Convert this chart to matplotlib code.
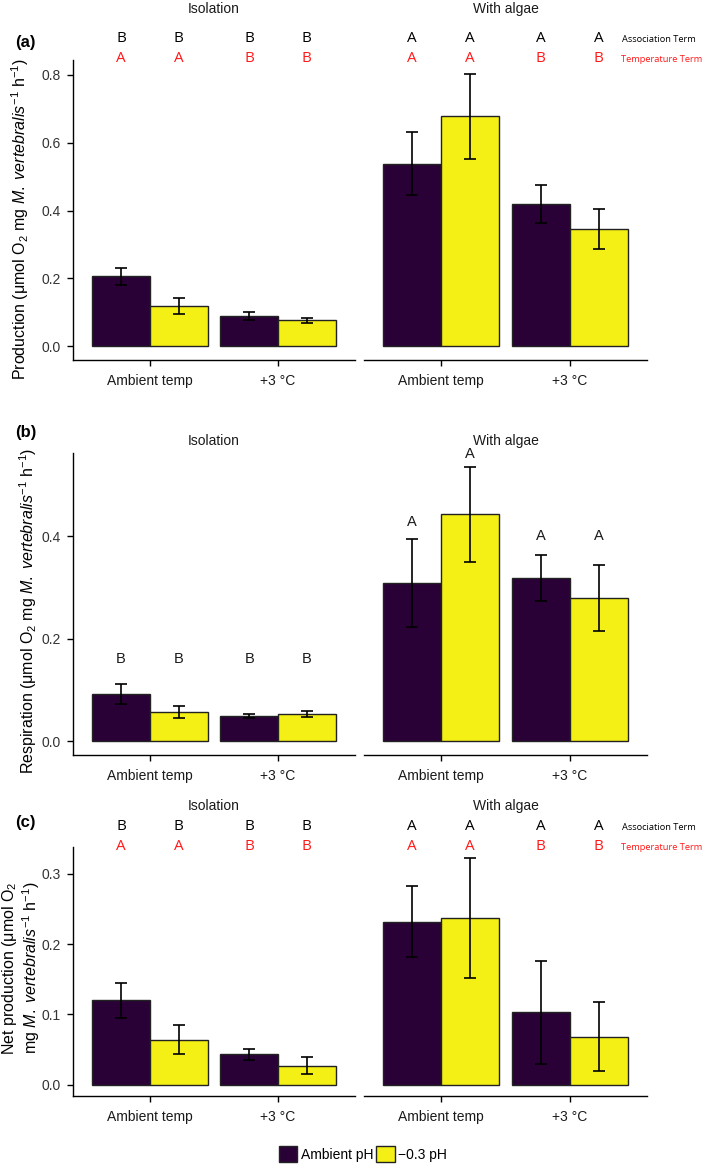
import matplotlib
matplotlib.use('Agg')
import matplotlib.pyplot as plt
import matplotlib.transforms as mtransforms
from matplotlib.patches import Patch
import numpy as np

plt.rcParams['font.family'] = ['Liberation Sans', 'DejaVu Sans']
plt.rcParams['mathtext.fontset'] = 'custom'
plt.rcParams['mathtext.rm'] = 'Liberation Sans'
plt.rcParams['mathtext.it'] = 'Liberation Sans:italic'
plt.rcParams['mathtext.bf'] = 'Liberation Sans:bold'

# data: order = [ambient temp/ambient pH, ambient temp/-0.3 pH, +3/ambient pH, +3/-0.3 pH]
temps = ['Ambient temp', '+3 °C']
ph_levels = ['Ambient pH', '\u22120.3 pH']
facets = ['Isolation', 'With algae']

prod_iso_mean = [0.206, 0.118, 0.089, 0.077]
prod_iso_se = [0.026, 0.023, 0.011, 0.007]
prod_alg_mean = [0.538, 0.677, 0.420, 0.345]
prod_alg_se = [0.092, 0.126, 0.056, 0.059]

resp_iso_mean = [0.092, 0.057, 0.050, 0.054]
resp_iso_se = [0.019, 0.011, 0.004, 0.006]
resp_alg_mean = [0.309, 0.443, 0.319, 0.280]
resp_alg_se = [0.085, 0.093, 0.045, 0.064]

net_iso_mean = [0.120, 0.064, 0.043, 0.027]
net_iso_se = [0.025, 0.021, 0.008, 0.012]
net_alg_mean = [0.232, 0.237, 0.103, 0.068]
net_alg_se = [0.051, 0.085, 0.073, 0.049]

assoc_iso = ['B', 'B', 'B', 'B']
assoc_alg = ['A', 'A', 'A', 'A']
temp_letters = ['A', 'A', 'B', 'B']
resp_iso_letters = ['B', 'B', 'B', 'B']
resp_alg_letters = ['A', 'A', 'A', 'A']
resp_iso_letter_y = [0.16, 0.16, 0.16, 0.16]
resp_alg_letter_y = [0.428, 0.561, 0.401, 0.401]

colors = ['#2a0136', '#f4ef14']

W, H = 709, 1164
fig = plt.figure(figsize=(W / 100, H / 100), dpi=100)


def rect(l, t, r, b):
    return [l / W, 1 - b / H, (r - l) / W, (b - t) / H]


def draw_facet(ax, means, ses, ymax, yticks, show_y):
    xs = np.array([1 - 0.225, 1 + 0.225, 2 - 0.225, 2 + 0.225])
    for i in range(4):
        ax.bar(xs[i], means[i], width=0.45, color=colors[i % 2],
               edgecolor='#222222', linewidth=1.0, zorder=2)
    ax.errorbar(xs, means, yerr=ses, fmt='none', ecolor='black',
                elinewidth=1.2, capsize=4.5, capthick=1.2, zorder=3)
    ax.set_xlim(0.4, 2.6)
    ax.set_ylim(-0.05 * ymax, 1.05 * ymax)
    ax.set_xticks([1, 2])
    ax.set_xticklabels(temps, fontsize=10, color='#1a1a1a')
    for s in ['top', 'right']:
        ax.spines[s].set_visible(False)
    ax.spines['bottom'].set_linewidth(1.0)
    ax.tick_params(axis='x', length=4, width=1.0, pad=6)
    if show_y:
        ax.set_yticks(yticks)
        ax.set_yticklabels(['%.1f' % v for v in yticks], fontsize=10, color='#333333')
        ax.tick_params(axis='y', length=4, width=1.0, pad=5)
        ax.spines['left'].set_linewidth(1.0)
    else:
        ax.spines['left'].set_visible(False)
        ax.set_yticks([])
    ax.set_facecolor('none')
    return xs


panels = [
    dict(top=60, bottom=360, iso=(prod_iso_mean, prod_iso_se), alg=(prod_alg_mean, prod_alg_se),
         yticks=[0, 0.2, 0.4, 0.6, 0.8], strip=9, tag='(a)', tag_y=43,
         letters=(39, 58), ylabel_x=20, ylabel_y=219,
         ylabel='Production (μmol O$_2$ mg $\\mathit{M.\\ vertebralis}^{-1}$ h$^{-1}$)'),
    dict(top=453, bottom=755, iso=(resp_iso_mean, resp_iso_se), alg=(resp_alg_mean, resp_alg_se),
         yticks=[0, 0.2, 0.4], strip=441, tag='(b)', tag_y=433,
         letters=None, ylabel_x=28, ylabel_y=611,
         ylabel='Respiration (μmol O$_2$ mg $\\mathit{M.\\ vertebralis}^{-1}$ h$^{-1}$)'),
    dict(top=847, bottom=1096, iso=(net_iso_mean, net_iso_se), alg=(net_alg_mean, net_alg_se),
         yticks=[0, 0.1, 0.2, 0.3], strip=806, tag='(c)', tag_y=822,
         letters=(827, 846), ylabel_x=21, ylabel_y=968,
         ylabel='Net production (μmol O$_2$\nmg $\\mathit{M.\\ vertebralis}^{-1}$ h$^{-1}$)'),
]

for p in panels:
    ymax = max(max(np.add(*p['iso'])), max(np.add(*p['alg'])))
    ax1 = fig.add_axes(rect(73, p['top'], 355, p['bottom']))
    ax2 = fig.add_axes(rect(364, p['top'], 647, p['bottom']))
    xs1 = draw_facet(ax1, p['iso'][0], p['iso'][1], ymax, p['yticks'], True)
    xs2 = draw_facet(ax2, p['alg'][0], p['alg'][1], ymax, p['yticks'], False)

    fig.text(214 / W, 1 - p['strip'] / H, facets[0], ha='center', va='center', fontsize=10, color='#1a1a1a')
    fig.text(505.5 / W, 1 - p['strip'] / H, facets[1], ha='center', va='center', fontsize=10, color='#1a1a1a')
    fig.text(15 / W, 1 - p['tag_y'] / H, p['tag'], ha='left', va='center', fontsize=12, fontweight='bold')

    fig.text(p['ylabel_x'] / W, 1 - p['ylabel_y'] / H, p['ylabel'], rotation=90, ha='center', va='center',
             fontsize=11.5, linespacing=1.1, multialignment='center')

    if p['letters'] is not None:
        yb, yr = p['letters']
        for ax, xs, assoc in [(ax1, xs1, assoc_iso), (ax2, xs2, assoc_alg)]:
            tr = mtransforms.blended_transform_factory(ax.transData, fig.transFigure)
            for i in range(4):
                ax.text(xs[i], 1 - yb / H, assoc[i], transform=tr, ha='center', va='center',
                        fontsize=11, family='Open Sans', color='black', clip_on=False)
                ax.text(xs[i], 1 - yr / H, temp_letters[i], transform=tr, ha='center', va='center',
                        fontsize=11, family='Open Sans', color='#ff1a1a', clip_on=False)
        fig.text(622 / W, 1 - (yb + 1) / H, 'Association Term', ha='left', va='center',
                 fontsize=6.7, family='Open Sans', color='black')
        fig.text(621 / W, 1 - (yr + 1) / H, 'Temperature Term', ha='left', va='center',
                 fontsize=6.7, family='Open Sans', color='#ff1a1a')
    else:
        for ax, xs, lets, ly in [(ax1, xs1, resp_iso_letters, resp_iso_letter_y),
                                 (ax2, xs2, resp_alg_letters, resp_alg_letter_y)]:
            for i in range(4):
                ax.text(xs[i], ly[i], lets[i], ha='center', va='center', fontsize=10.5,
                        color='#1a1a1a', clip_on=False)

handles = [Patch(facecolor=colors[0], edgecolor='#222222', linewidth=1.0),
           Patch(facecolor=colors[1], edgecolor='#222222', linewidth=1.0)]
fig.legend(handles, ph_levels, loc='center', bbox_to_anchor=(363 / W, 1 - 1154 / H),
           ncol=2, frameon=False, fontsize=10, handlelength=1.35, handleheight=1.35,
           handletextpad=0.25, columnspacing=0.2, borderpad=0, borderaxespad=0)

fig.savefig('out.png', dpi=100)
